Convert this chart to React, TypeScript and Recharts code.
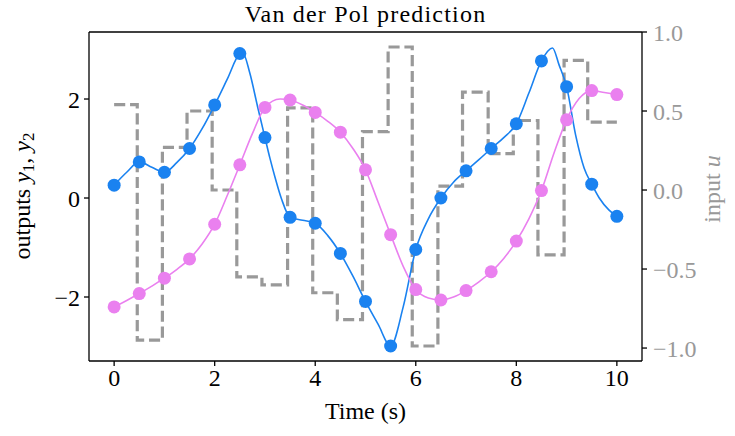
import React from "react";
import { ComposedChart, Line, XAxis, YAxis, ReferenceLine } from "recharts";

// sample times (markers)
const sampleTimes = [0, 0.5, 1, 1.5, 2, 2.5, 3, 3.5, 4, 4.5, 5, 5.5, 6, 6.5, 7, 7.5, 8, 8.5, 9, 9.5, 10];
const y1Samples = [0.26, 0.73, 0.52, 1.0, 1.88, 2.92, 1.22, -0.39, -0.51, -1.12, -2.09, -2.99, -1.04, 0.0, 0.55, 1.0, 1.5, 2.77, 2.25, 0.28, -0.37];
const y2Samples = [-2.2, -1.93, -1.62, -1.23, -0.53, 0.67, 1.83, 1.98, 1.73, 1.33, 0.57, -0.74, -1.85, -2.06, -1.87, -1.49, -0.87, 0.15, 1.58, 2.17, 2.09];

// continuous prediction curves
const y1CurveTimes = [0, 0.25, 0.5, 0.75, 1, 1.25, 1.5, 1.75, 2, 2.25, 2.5, 2.55, 2.7, 2.85, 3, 3.1, 3.2, 3.33, 3.5, 3.75, 4, 4.25, 4.5, 4.75, 5, 5.25, 5.5, 5.75, 6, 6.25, 6.5, 6.75, 7, 7.25, 7.5, 7.75, 8, 8.25, 8.5, 8.72, 8.85, 9, 9.18, 9.35, 9.5, 9.65, 9.84, 10];
const y1CurveValues = [0.26, 0.52, 0.73, 0.62, 0.52, 0.72, 1.0, 1.4, 1.88, 2.4, 2.92, 2.95, 2.52, 1.86, 1.22, 0.8, 0.42, -0.02, -0.39, -0.45, -0.51, -0.76, -1.12, -1.58, -2.09, -2.55, -2.99, -2.2, -1.04, -0.42, 0.0, 0.32, 0.55, 0.77, 1.0, 1.22, 1.5, 2.12, 2.77, 3.03, 2.69, 2.25, 1.27, 0.6, 0.28, 0.0, -0.24, -0.37];
const y2CurveTimes = [0, 0.25, 0.5, 0.75, 1, 1.25, 1.5, 1.75, 2, 2.25, 2.5, 2.75, 3, 3.3, 3.5, 3.75, 4, 4.25, 4.5, 4.75, 5, 5.25, 5.5, 5.75, 6, 6.25, 6.5, 6.75, 7, 7.25, 7.5, 7.75, 8, 8.25, 8.5, 8.75, 9, 9.25, 9.5, 9.75, 10];
const y2CurveValues = [-2.2, -2.07, -1.93, -1.78, -1.62, -1.44, -1.23, -0.93, -0.53, 0.05, 0.67, 1.3, 1.83, 2.0, 1.98, 1.88, 1.73, 1.55, 1.33, 1.0, 0.57, -0.08, -0.74, -1.38, -1.85, -2.02, -2.06, -2.0, -1.87, -1.7, -1.49, -1.22, -0.87, -0.42, 0.15, 0.91, 1.58, 2.01, 2.17, 2.13, 2.09];

// input u (zero-order hold)
const uTimes = [0, 0.46, 0.96, 1.45, 1.95, 2.44, 2.94, 3.45, 3.95, 4.44, 4.94, 5.45, 5.93, 6.44, 6.93, 7.44, 7.94, 8.43, 8.95, 9.42, 10];
const uValues = [0.54, -0.95, 0.27, 0.5, 0.0, -0.55, -0.6, 0.52, -0.65, -0.82, 0.37, 0.905, -0.987, 0.025, 0.62, 0.23, 0.44, -0.41, 0.82, 0.43, 0.43];

const xTicks = [0, 2, 4, 6, 8, 10];
const yLeftTicks = [-2, 0, 2];
const yRightTicks = [-1, -0.5, 0, 0.5, 1];
const xDomain = [-0.5, 10.5];
const yLeftDomain = [-3.293, 3.354];
const yRightDomain = [-1.082, 1.0];

const title = "Van der Pol prediction";
const xLabel = "Time (s)";
const rightLabel = "input ";

const y1Points = sampleTimes.map((t, i) => ({ t, y: y1Samples[i] }));
const y2Points = sampleTimes.map((t, i) => ({ t, y: y2Samples[i] }));
const y1Curve = y1CurveTimes.map((t, i) => ({ t, y: y1CurveValues[i] }));
const y2Curve = y2CurveTimes.map((t, i) => ({ t, y: y2CurveValues[i] }));
const uData = uTimes.map((t, i) => ({ t, u: uValues[i] }));

const BLUE = "#1a82f0";
const PINK = "#ea80ef";
const GRAY = "#999999";
const FONT = "'Liberation Serif', 'Times New Roman', serif";
const FS = 24;

const fmtLeft = (v: number) => (v < 0 ? "\u2212" : "") + Math.abs(v).toString();
const fmtRight = (v: number) => (v < 0 ? "\u2212" : "") + Math.abs(v).toFixed(1);

export default function App() {
  return (
    <div style={{ position: "absolute", left: 0, top: 0, width: 735, height: 436, background: "#fff" }}>
      <ComposedChart width={735} height={436} margin={{ top: 32, right: 0, bottom: 0, left: 0 }}>
        <XAxis
          xAxisId="b"
          dataKey="t"
          type="number"
          domain={xDomain}
          ticks={xTicks}
          allowDataOverflow
          height={75}
          tickSize={5}
          tickMargin={3}
          stroke="#000"
          strokeWidth={1.3}
          tick={{ fill: "#000", fontFamily: FONT, fontSize: FS }}
          label={{
            content: () => (
              <g>
                <text x={365.5} y={419} textAnchor="middle" fontFamily={FONT} fontSize={FS} fill="#000">
                  {xLabel}
                </text>
                <text
                  x={365.5}
                  y={22}
                  textAnchor="middle"
                  fontFamily={FONT}
                  fontSize={FS}
                  letterSpacing={1.2}
                  fill="#000"
                >
                  {title}
                </text>
              </g>
            ),
          }}
        />
        <YAxis
          yAxisId="left"
          type="number"
          domain={yLeftDomain}
          ticks={yLeftTicks}
          allowDataOverflow
          width={89}
          tickSize={5}
          tickMargin={4}
          stroke="#000"
          strokeWidth={1.3}
          tickFormatter={fmtLeft}
          tick={{ fill: "#000", fontFamily: FONT, fontSize: FS }}
          label={{
            content: () => (
              <text
                x={30}
                y={196}
                transform="rotate(-90, 30, 196)"
                textAnchor="middle"
                fontFamily={FONT}
                fontSize={FS}
                fill="#000"
              >
                outputs <tspan fontStyle="italic">y</tspan>
                <tspan fontSize={17} dy={4}>1</tspan>
                <tspan dy={-4}>, </tspan>
                <tspan fontStyle="italic">y</tspan>
                <tspan fontSize={17} dy={4}>2</tspan>
              </text>
            ),
          }}
        />
        <YAxis
          yAxisId="right"
          orientation="right"
          type="number"
          domain={yRightDomain}
          ticks={yRightTicks}
          allowDataOverflow
          width={93}
          tickSize={5}
          tickMargin={6}
          stroke="#000"
          strokeWidth={1.3}
          tickFormatter={fmtRight}
          tick={{ fill: GRAY, fontFamily: FONT, fontSize: FS }}
          label={{
            content: () => (
              <text
                x={720}
                y={189}
                transform="rotate(-90, 720, 189)"
                textAnchor="middle"
                fontFamily={FONT}
                fontSize={FS}
                fill={GRAY}
              >
                {rightLabel}
                <tspan fontStyle="italic">u</tspan>
              </text>
            ),
          }}
        />
        <ReferenceLine xAxisId="b" yAxisId="left" y={yLeftDomain[1]} stroke="#000" strokeWidth={1.3} />
        <Line
          xAxisId="b"
          yAxisId="right"
          data={uData}
          dataKey="u"
          type="stepAfter"
          stroke={GRAY}
          strokeWidth={3.2}
          strokeDasharray="11.1 4.8"
          dot={false}
          activeDot={false}
          isAnimationActive={false}
        />
        <Line
          xAxisId="b"
          yAxisId="left"
          data={y1Curve}
          dataKey="y"
          type="monotone"
          stroke={BLUE}
          strokeWidth={1.6}
          dot={false}
          activeDot={false}
          isAnimationActive={false}
        />
        <Line
          xAxisId="b"
          yAxisId="left"
          data={y1Points}
          dataKey="y"
          stroke="none"
          dot={{ r: 6.5, fill: BLUE, stroke: "none" }}
          activeDot={false}
          isAnimationActive={false}
        />
        <Line
          xAxisId="b"
          yAxisId="left"
          data={y2Curve}
          dataKey="y"
          type="monotone"
          stroke={PINK}
          strokeWidth={1.6}
          dot={false}
          activeDot={false}
          isAnimationActive={false}
        />
        <Line
          xAxisId="b"
          yAxisId="left"
          data={y2Points}
          dataKey="y"
          stroke="none"
          dot={{ r: 6.5, fill: PINK, stroke: "none" }}
          activeDot={false}
          isAnimationActive={false}
        />
      </ComposedChart>
    </div>
  );
}
